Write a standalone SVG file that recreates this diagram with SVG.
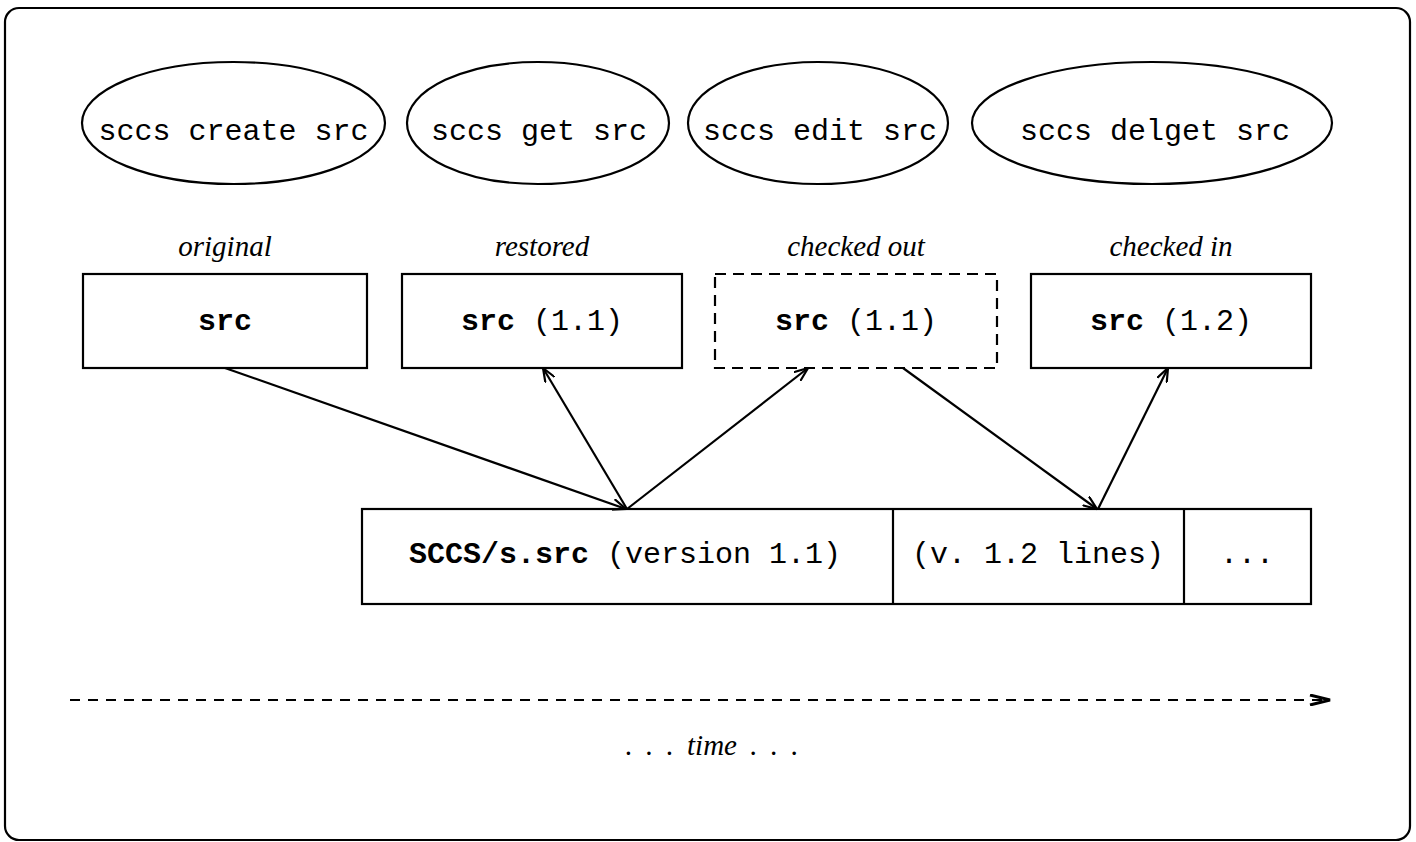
<svg xmlns="http://www.w3.org/2000/svg" width="1416" height="842" viewBox="0 0 1416 842">
<style>
.ln{fill:none;stroke:#000;stroke-width:2.2}
.mono{font-family:"Liberation Mono","Courier New",monospace;font-size:30px;fill:#000}
.b{font-weight:bold}
.lbl{font-family:"Liberation Serif","Times New Roman",serif;font-style:italic;font-size:29px;fill:#000}
</style>
<defs>
<marker id="ah" viewBox="0 0 15 12" refX="14" refY="6" markerWidth="15" markerHeight="12" markerUnits="userSpaceOnUse" orient="auto">
<path d="M0,0.5 L14,6 L0,11.5" fill="none" stroke="#000" stroke-width="2.2"/>
</marker>
<marker id="th" viewBox="0 0 22 12" refX="21" refY="6" markerWidth="22" markerHeight="12" markerUnits="userSpaceOnUse" orient="auto">
<path d="M1,1 L21,6 L1,11" fill="none" stroke="#000" stroke-width="3"/>
</marker>
</defs>
<rect x="0" y="0" width="1416" height="842" fill="#fff"/>
<rect id="frame" x="5" y="8" width="1405" height="832" rx="14" class="ln"/>

<g id="cmd-create"><ellipse cx="233.5" cy="123" rx="151.5" ry="61" class="ln"/><text x="233.5" y="140" text-anchor="middle" class="mono">sccs create src</text></g>
<g id="cmd-get"><ellipse cx="538" cy="123" rx="131" ry="61" class="ln"/><text x="539" y="140" text-anchor="middle" class="mono">sccs get src</text></g>
<g id="cmd-edit"><ellipse cx="818" cy="123" rx="130" ry="61" class="ln"/><text x="820" y="140" text-anchor="middle" class="mono">sccs edit src</text></g>
<g id="cmd-delget"><ellipse cx="1152" cy="123" rx="180" ry="61" class="ln"/><text x="1155" y="140" text-anchor="middle" class="mono">sccs delget src</text></g>

<g id="file-original"><text x="225" y="256" text-anchor="middle" class="lbl">original</text><rect x="83" y="274" width="284" height="94" class="ln"/><text x="225" y="330" text-anchor="middle" class="mono b">src</text></g>
<g id="file-restored"><text x="542" y="256" text-anchor="middle" class="lbl">restored</text><rect x="402" y="274" width="280" height="94" class="ln"/><text x="542" y="330" text-anchor="middle" class="mono"><tspan class="b">src</tspan> (1.1)</text></g>
<g id="file-checkedout"><text x="856" y="256" text-anchor="middle" class="lbl">checked out</text><rect x="715" y="274" width="282" height="94" class="ln" stroke-dasharray="11,7"/><text x="856" y="330" text-anchor="middle" class="mono"><tspan class="b">src</tspan> (1.1)</text></g>
<g id="file-checkedin"><text x="1171" y="256" text-anchor="middle" class="lbl">checked in</text><rect x="1031" y="274" width="280" height="94" class="ln"/><text x="1171" y="330" text-anchor="middle" class="mono"><tspan class="b">src</tspan> (1.2)</text></g>

<g id="sfile">
<rect x="362" y="509" width="949" height="95" class="ln"/>
<line x1="893" y1="509" x2="893" y2="604" class="ln"/>
<line x1="1184" y1="509" x2="1184" y2="604" class="ln"/>
<text x="625" y="563" text-anchor="middle" class="mono"><tspan class="b">SCCS/s.src</tspan> (version 1.1)</text>
<text x="1038" y="563" text-anchor="middle" class="mono">(v. 1.2 lines)</text>
<text x="1247" y="563" text-anchor="middle" class="mono">...</text>
</g>

<g id="connectors">
<line x1="225" y1="368" x2="626" y2="509" class="ln" marker-end="url(#ah)"/>
<line x1="627" y1="509" x2="543" y2="368" class="ln" marker-end="url(#ah)"/>
<line x1="627" y1="509" x2="808" y2="368" class="ln" marker-end="url(#ah)"/>
<line x1="903" y1="368" x2="1097" y2="509" class="ln" marker-end="url(#ah)"/>
<line x1="1098" y1="509" x2="1168" y2="368" class="ln" marker-end="url(#ah)"/>
</g>

<g id="timeline">
<line x1="70" y1="700" x2="1330" y2="700" class="ln" stroke-width="2.5" stroke-dasharray="10,8" marker-end="url(#th)"/>
<text x="712" y="755" text-anchor="middle" class="lbl" word-spacing="6">. . . time . . .</text>
</g>
</svg>
